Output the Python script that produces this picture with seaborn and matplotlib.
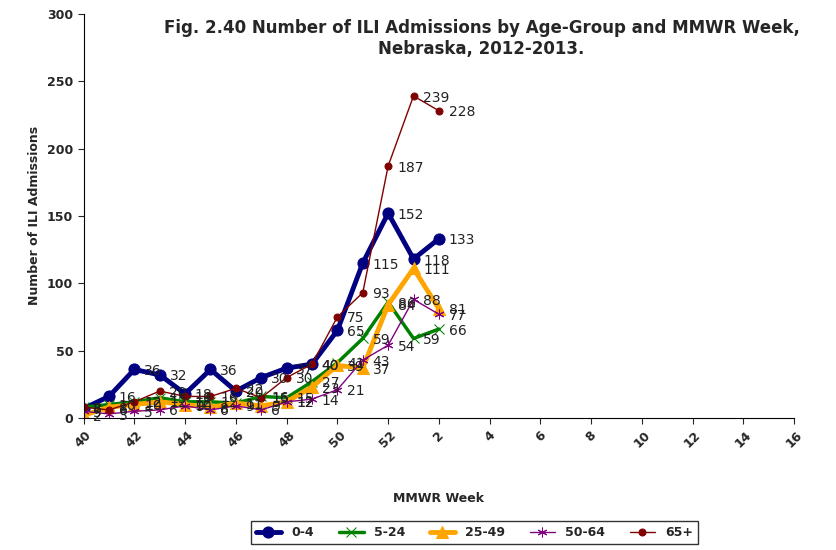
import matplotlib
matplotlib.use('Agg')
import matplotlib.pyplot as plt
import seaborn as sns
import pandas as pd

weeks = [40, 41, 42, 43, 44, 45, 46, 47, 48, 49, 50, 51, 52, 1, 2]
age_0_4   = [7, 16, 36, 32, 18, 36, 20, 30, 37, 40, 65, 115, 152, 118, 133]
age_5_24  = [8, 10, 12, 15, 12, 12, 11, 16, 15, 27, 41, 59, 86, 59, 66]
age_25_49 = [2, 8, 10, 12, 10, 8, 11, 9, 12, 23, 39, 37, 84, 111, 81]
age_50_64 = [5, 3, 5, 6, 9, 6, 9, 6, 12, 14, 21, 43, 54, 88, 77]
age_65p   = [8, 6, 12, 20, 16, 16, 22, 15, 30, 40, 75, 93, 187, 239, 228]
tick_labels = ['40', '42', '44', '46', '48', '50', '52', '2', '4', '6', '8', '10', '12', '14', '16']

series = [
    ('0-4', age_0_4, '#000080', 'o', 3.5, 8),
    ('5-24', age_5_24, '#008000', 'x', 2.5, 7),
    ('25-49', age_25_49, '#FFA500', '^', 3.5, 8),
    ('50-64', age_50_64, '#800080', (6, 2, 0), 1.0, 7),
    ('65+', age_65p, '#800000', 'o', 1.0, 5),
]

sns.set_style('white')
fig, ax = plt.subplots(figsize=(8.36, 5.5), dpi=100)
pos = list(range(len(weeks)))
for name, vals, color, marker, lw, ms in series:
    df = pd.DataFrame({'x': pos, 'y': vals})
    sns.lineplot(data=df, x='x', y='y', ax=ax, color=color, marker=marker, linewidth=lw,
                 markersize=ms, markeredgecolor=color, label=name)
    for x, v in zip(pos, vals):
        ax.annotate(str(v), (x, v), xytext=(7, -4), textcoords='offset points',
                    fontsize=10, color='#222222')

ax.set_xlim(0, 28)
ax.set_ylim(0, 300)
ax.set_xticks(range(0, 29, 2))
ax.set_xticklabels(tick_labels, rotation=45, fontweight='bold', fontsize=9)
ax.set_yticks(range(0, 301, 50))
ax.set_yticklabels([str(t) for t in range(0, 301, 50)], fontweight='bold', fontsize=9)
ax.set_xlabel('MMWR Week', fontweight='bold', fontsize=9, labelpad=30)
ax.set_ylabel('Number of ILI Admissions', fontweight='bold', fontsize=9)
ax.tick_params(axis='both', direction='out', length=4, left=True, bottom=True)
for s in ['top', 'right']:
    ax.spines[s].set_visible(False)
for s in ['left', 'bottom']:
    ax.spines[s].set_color('black')
ax.set_title('Fig. 2.40 Number of ILI Admissions by Age-Group and MMWR Week,\nNebraska, 2012-2013.',
             fontweight='bold', fontsize=12, x=0.56, y=0.88)
ax.legend(loc='upper center', bbox_to_anchor=(0.55, -0.24), ncol=5, frameon=True,
          fancybox=False, edgecolor='black', prop={'weight': 'bold', 'size': 9})
plt.subplots_adjust(left=0.1, right=0.95, top=0.975, bottom=0.24)
fig.savefig('out.png', dpi=100)
